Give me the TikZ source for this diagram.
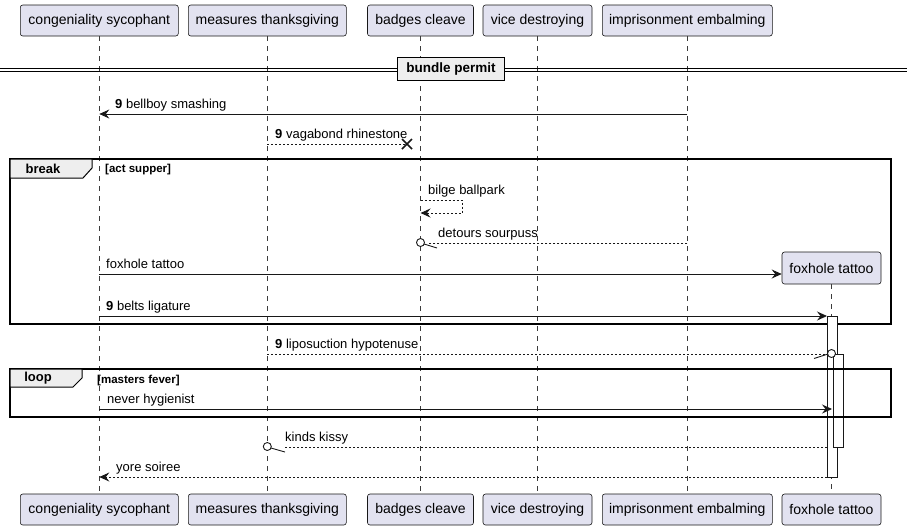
\documentclass[tikz,border=0pt]{standalone}
\usepackage{fontspec}
\setmainfont{Liberation Sans}
\usetikzlibrary{arrows.meta}
\definecolor{pfill}{HTML}{E2E2F0}
\definecolor{pline}{HTML}{181818}
\definecolor{tabfill}{HTML}{EEEEEE}
\begin{document}
\begin{tikzpicture}[x=1pt,y=-1pt,
  part/.style={draw=pline, fill=pfill, rounded corners=2.5pt, line width=0.6pt,
    minimum height=31pt, inner sep=0pt, font=\fontsize{14}{16}\selectfont, text=black},
  life/.style={draw=pline!85, dash pattern=on 5pt off 5pt, line width=0.6pt},
  msg/.style={draw=pline, line width=0.9pt},
  dmsg/.style={msg, dash pattern=on 2pt off 2pt},
  tip/.style={-{Stealth[length=10pt,width=9pt,inset=3.5pt]}},
  lbl/.style={anchor=base west, inner sep=0pt, font=\fontsize{13}{15}\selectfont},
  framebox/.style={draw=black, line width=1.5pt},
  tabshape/.style={draw=black, line width=1pt, fill=tabfill},
  tablbl/.style={inner sep=0pt, font=\bfseries\fontsize{13}{15}\selectfont},
  condlbl/.style={anchor=base west, inner sep=0pt, font=\bfseries\fontsize{11.5}{13}\selectfont},
  actbox/.style={draw=pline, fill=white, line width=0.9pt},
  endcirc/.style={draw=pline, fill=white, line width=0.9pt}
]
\useasboundingbox (0,0) rectangle (907,531);

% participants top
\node[part, minimum width=158pt] (cs) at (99.3,20.5) {congeniality sycophant};
\node[part, minimum width=158pt] (mt) at (267.3,20.5) {measures thanksgiving};
\node[part, minimum width=106pt] (bc) at (420.5,20.5) {badges cleave};
\node[part, minimum width=109pt] (vd) at (537.5,20.5) {vice destroying};
\node[part, minimum width=170pt] (ie) at (687.3,20.5) {imprisonment embalming};
% participants bottom
\node[part, minimum width=158pt] (csb) at (99.3,509.5) {congeniality sycophant};
\node[part, minimum width=158pt] (mtb) at (267.3,509.5) {measures thanksgiving};
\node[part, minimum width=106pt] (bcb) at (420.5,509.5) {badges cleave};
\node[part, minimum width=109pt] (vdb) at (537.5,509.5) {vice destroying};
\node[part, minimum width=170pt] (ieb) at (687.3,509.5) {imprisonment embalming};
\node[part, minimum width=99pt] (ftb) at (831.5,509.5) {foxhole tattoo};
% created participant
\node[part, minimum width=99pt, minimum height=32pt] (ft) at (831.5,268) {foxhole tattoo};

% lifelines
\draw[life] (cs.south) -- (csb.north);
\draw[life] (mt.south) -- (mtb.north);
\draw[life] (bc.south) -- (bcb.north);
\draw[life] (vd.south) -- (vdb.north);
\draw[life] (ie.south) -- (ieb.north);
\draw[life] (ft.south) -- (ftb.north);

% divider
\draw[line width=0.9pt] (0,68) -- (907,68);
\draw[line width=0.9pt] (0,71.5) -- (907,71.5);
\node[draw=black, line width=1.6pt, fill=tabfill, minimum width=107pt, minimum height=23pt,
  inner sep=0pt, font=\bfseries\fontsize{13.5}{15}\selectfont] (div) at (451,69) {bundle permit};

% message 1
\draw[msg, tip] (687.3,114) -- (99.3,114);
\node[lbl] (m1) at (115,108) {\textbf{9} bellboy smashing};
% message 2 (destroy)
\draw[dmsg] (267.3,144) -- (407,144);
\draw[line width=1.6pt, draw=pline] (402,139) -- (412,149) (402,149) -- (412,139);
\node[lbl] (m2) at (275,138) {\textbf{9} vagabond rhinestone};

% break frame
\draw[framebox] (10,159) rectangle (891,324);
\draw[tabshape] (10,159) -- (92,159) -- (92,168) -- (83,178) -- (10,178) -- cycle;
\node[tablbl] (brk) at (43,168.5) {break};
\node[condlbl] (c1) at (105,172) {[act supper]};

% self message
\draw[dmsg, tip] (420.5,200) -- (462,200) -- (462,213) -- (420.5,213);
\node[lbl] (m3) at (428,194) {bilge ballpark};

% detours sourpuss
\draw[dmsg] (687.3,243) -- (428,243);
\draw[line width=0.9pt, draw=pline] (424,244) -- (437,248);
\draw[endcirc] (420.5,242.5) circle (4pt);
\node[lbl] (m4) at (438,237) {detours sourpuss};

% create
\draw[msg, tip] (99.3,274) -- (ft.west |- 0,274);
\node[lbl] (m5) at (106,268) {foxhole tattoo};

% belts ligature
\draw[msg, tip] (99.3,316) -- (827,316);
\node[lbl] (m6) at (106,310) {\textbf{9} belts ligature};

% activation boxes
\draw[actbox] (827,316) rectangle (837.5,477);
\draw[actbox] (833,354) rectangle (843,447);

% liposuction
\draw[dmsg] (267.3,354) -- (827,354);
\draw[line width=0.9pt, draw=pline] (814,358.5) -- (828,354);
\draw[endcirc] (831.5,353.5) circle (4pt);
\node[lbl] (m7) at (275,348) {\textbf{9} liposuction hypotenuse};

% loop frame
\draw[framebox] (10,369) rectangle (891,417);
\draw[tabshape] (10,369) -- (82,369) -- (82,378) -- (73,387) -- (10,387) -- cycle;
\node[tablbl] (lp) at (38,378) {loop};
\node[condlbl] (c2) at (97,383) {[masters fever]};

% never hygienist
\draw[msg, tip] (99.3,409) -- (832,409);
\node[lbl] (m8) at (107,403) {never hygienist};

% kinds kissy
\draw[dmsg] (827,447) -- (284,447);
\draw[line width=0.9pt, draw=pline] (271,448) -- (285,452);
\draw[endcirc] (267.3,446.5) circle (4pt);
\node[lbl] (m9) at (285,441) {kinds kissy};

% yore soiree
\draw[dmsg, tip] (827,477) -- (99.3,477);
\node[lbl] (m10) at (116,471) {yore soiree};
\end{tikzpicture}
\end{document}
